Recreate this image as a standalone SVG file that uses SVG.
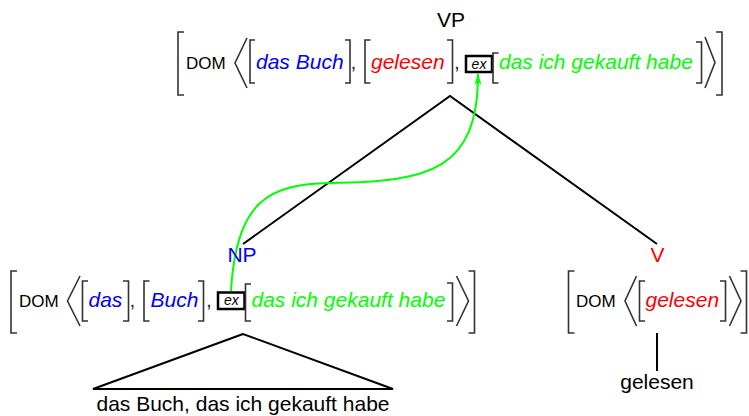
<svg xmlns="http://www.w3.org/2000/svg" width="749" height="416" viewBox="0 0 749 416">
<defs>
<style>
.t{font-family:"Liberation Sans",Arial,Helvetica,sans-serif;font-size:21px;fill:#000}
.it{font-style:italic}
.dom{font-size:17px}
.cm{fill:#333}
.b{fill:#0000ff}.r{fill:#ff0000}.g{fill:#00ff00}
.br{fill:none;stroke:#333;stroke-width:1.6}
.exb{fill:#fff;stroke:#000;stroke-width:2.5}
.ex{font-family:"Liberation Sans",Arial,sans-serif;font-size:14px;font-style:italic;fill:#000;text-anchor:middle}
.edge{fill:none;stroke:#000;stroke-width:2}
.dep{fill:none;stroke:#00ff00;stroke-width:2}
</style>
<marker id="ah" viewBox="0 0 12 8" refX="11" refY="4" markerWidth="12" markerHeight="8" markerUnits="userSpaceOnUse" orient="auto">
<path d="M0,0.5 L12,4 L0,7.5 L3,4 Z" fill="#00ff00"/>
</marker>
</defs>
<rect width="749" height="416" fill="#fff"/>

<g id="connectors">
<path class="edge" d="M243,244 L450,96 L657,244"/>
<path class="edge" d="M657,333 L657,371"/>
<path class="dep" d="M231,291 C236,200 270,184 330,183 C430,182 478,170 478,74" marker-end="url(#ah)"/>
</g>

<g id="VP">
<text class="t" x="451" y="27" text-anchor="middle">VP</text>
<path class="br" d="M184,32 H178 V95 H184"/>
<text class="t dom" x="186" y="69.3">DOM</text>
<path class="br" d="M247,38 L235,63 L247,88"/>
<path class="br" d="M255,40 H250 V83 H255"/>
<text class="t it b" x="256" y="69.3">das Buch</text>
<path class="br" d="M345,40 H350 V83 H345"/>
<text class="t cm" x="350.5" y="69.3">,</text>
<path class="br" d="M370.5,40 H365 V83 H370.5"/>
<text class="t it r" x="371" y="69.3">gelesen</text>
<path class="br" d="M447,40 H452.5 V83 H447"/>
<text class="t cm" x="454" y="69.3">,</text>
<rect class="exb" x="466" y="56" width="26" height="16"/>
<text class="ex" x="479" y="68.5">ex</text>
<path class="br" d="M498.5,53 H493 V83 H498.5"/>
<text class="t it g" x="499" y="69.3">das ich gekauft habe</text>
<path class="br" d="M696,42 H701.5 V83 H696"/>
<path class="br" d="M705,37 L715,62.5 L705,88"/>
<path class="br" d="M716,32 H722 V95 H716"/>
</g>

<g id="NP">
<text class="t b" x="242" y="261.7" text-anchor="middle">NP</text>
<path class="br" d="M17,271 H11 V333 H17"/>
<text class="t dom" x="19" y="306.7">DOM</text>
<path class="br" d="M80,276 L67.5,301 L80,326"/>
<path class="br" d="M88,281 H82.5 V321 H88"/>
<text class="t it b" x="88.5" y="306.7">das</text>
<path class="br" d="M123,281 H128.5 V321 H123"/>
<text class="t cm" x="129.5" y="306.7">,</text>
<path class="br" d="M149.5,281 H144 V321 H149.5"/>
<text class="t it b" x="150.5" y="306.7">Buch</text>
<path class="br" d="M198,281 H203.5 V321 H198"/>
<text class="t cm" x="206" y="306.7">,</text>
<rect class="exb" x="218" y="292.5" width="26.5" height="16.5"/>
<text class="ex" x="231.3" y="305.3">ex</text>
<path class="br" d="M251,284 H245.5 V321 H251"/>
<text class="t it g" x="251.5" y="306.7">das ich gekauft habe</text>
<path class="br" d="M447,283 H452.5 V321 H447"/>
<path class="br" d="M456.5,276 L468.5,301 L456.5,326"/>
<path class="br" d="M468.5,271 H474.5 V333 H468.5"/>
</g>

<g id="NP-yield">
<path class="edge" d="M243,334 L93,389 L393,389 Z"/>
<text class="t" x="243" y="411" text-anchor="middle">das Buch, das ich gekauft habe</text>
</g>

<g id="V">
<text class="t r" x="657.5" y="261.7" text-anchor="middle">V</text>
<path class="br" d="M574.5,271 H568.5 V333 H574.5"/>
<text class="t dom" x="576" y="306.7">DOM</text>
<path class="br" d="M636.5,276 L625,301 L636.5,326"/>
<path class="br" d="M645,281 H639.5 V321 H645"/>
<text class="t it r" x="645.5" y="306.7">gelesen</text>
<path class="br" d="M720,281 H725.5 V321 H720"/>
<path class="br" d="M729.5,276 L741,301 L729.5,326"/>
<path class="br" d="M740.5,271 H746.5 V333 H740.5"/>
</g>

<g id="V-yield">
<text class="t" x="657" y="388.5" text-anchor="middle">gelesen</text>
</g>
</svg>
